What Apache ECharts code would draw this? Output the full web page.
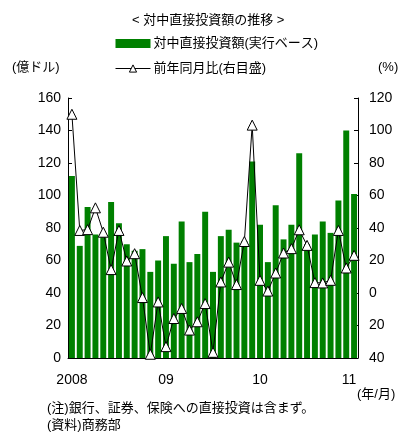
<!DOCTYPE html>
<html>
<head>
<meta charset="utf-8">
<script src="https://cdn.jsdelivr.net/npm/echarts@6/dist/echarts.min.js"></script>
<style>
  html, body { margin: 0; padding: 0; background: #fff; }
  #main { width: 403px; height: 436px; }
</style>
</head>
<body>
<div id="main"></div>
<script>
  // 2008/01 - 2011/01
  let months = [];
  for (let y = 2008; y <= 2011; y++) {
    for (let m = 1; m <= 12; m++) {
      if (y === 2011 && m > 1) break;
      months.push(y + '/' + m);
    }
  }
  let yearLabels = {'2008/1': '2008', '2009/1': '09', '2010/1': '10', '2011/1': '{last|11}'};

  // 対中直接投資額(実行ベース) 億ドル
  let amount = [112, 69, 93, 76, 75, 96, 83, 70, 66, 67, 53, 60,
                75, 58, 84, 59, 64, 90, 53, 75, 79, 71, 72, 121,
                82, 59, 94, 73, 82, 126, 70, 76, 84, 77, 97, 140,
                101];
  // 前年同月比 %
  let yoy = [110, 38.5, 39, 52.4, 37.4, 14.4, 38.5, 19.7, 24.2, -2.8, -37.7, -5.5,
             -33, -15.7, -9.5, -22.8, -17.7, -6.5, -36.5, 6.8, 19, 5.2, 31.7, 103.3,
             7.8, 1.2, 12.3, 24.6, 27.3, 38.9, 29.3, 6.4, 6.2, 7.8, 38.5, 15.4, 23.2];

  let font = '"Liberation Sans", "Noto Sans CJK JP", sans-serif';
  let myChart = echarts.init(document.getElementById('main'));

  let options = {
    animation: false,
    textStyle: {fontFamily: font, color: '#000'},
    title: {
      text: '< 対中直接投資額の推移 >',
      left: 127,
      top: 9,
      textStyle: {fontSize: 13, fontWeight: 'normal', color: '#000', fontFamily: font}
    },
    legend: {
      orient: 'vertical',
      left: 115,
      top: 37,
      padding: 0,
      itemWidth: 35,
      itemHeight: 9,
      itemGap: 12,
      textStyle: {fontSize: 13, color: '#000', fontFamily: font, padding: [0, 0, 0, -2]},
      data: [
        {name: '対中直接投資額(実行ベース)', icon: 'rect'},
        {name: '前年同月比(右目盛)', itemStyle: {borderWidth: 1}, lineStyle: {width: 1}}
      ]
    },
    grid: {left: 68, right: 45, top: 98, bottom: 78},
    xAxis: {
      type: 'category',
      data: months,
      boundaryGap: true,
      axisLine: {lineStyle: {color: '#000', width: 1}},
      axisTick: {
        length: 5,
        interval: function (i) { return i % 12 === 0; },
        lineStyle: {color: '#000'}
      },
      axisLabel: {
        interval: 0,
        fontSize: 14,
        color: '#000',
        margin: 15,
        formatter: function (v) { return yearLabels[v] || ''; },
        rich: {last: {fontSize: 14, color: '#000', padding: [0, 10, 0, 0]}}
      }
    },
    yAxis: [{
      type: 'value',
      min: 0,
      max: 160,
      interval: 20,
      splitLine: {show: false},
      axisLine: {show: true, lineStyle: {color: '#000'}},
      axisTick: {show: true, inside: true, length: 4, lineStyle: {color: '#000'}},
      axisLabel: {fontSize: 14, color: '#000', margin: 7}
    }, {
      type: 'value',
      min: -40,
      max: 120,
      interval: 20,
      splitLine: {show: false},
      axisLine: {show: true, lineStyle: {color: '#000'}},
      axisTick: {show: true, inside: true, length: 4, lineStyle: {color: '#000'}},
      axisLabel: {
        fontSize: 14, color: '#000', margin: 11,
        formatter: function (v) { return String(Math.abs(v)); }
      }
    }],
    series: [{
      name: '対中直接投資額(実行ベース)',
      type: 'bar',
      data: amount,
      barCategoryGap: '24%',
      itemStyle: {color: '#008000'}
    }, {
      name: '前年同月比(右目盛)',
      type: 'line',
      yAxisIndex: 1,
      data: yoy,
      symbol: 'triangle',
      symbolSize: 10,
      lineStyle: {color: '#000', width: 1},
      itemStyle: {color: '#fff', borderColor: '#000', borderWidth: 1}
    }],
    graphic: [
      {type: 'text', left: 12, top: 61, style: {text: '(億ドル)', font: '13px ' + font, fill: '#000'}},
      {type: 'text', left: 378, top: 61, style: {text: '(%)', font: '13px ' + font, fill: '#000'}},
      {type: 'text', left: 357, top: 388, style: {text: '(年/月)', font: '13px ' + font, fill: '#000'}},
      {type: 'text', left: 47, top: 402, style: {text: '(注)銀行、証券、保険への直接投資は含まず。', font: '13px ' + font, fill: '#000'}},
      {type: 'text', left: 47, top: 419, style: {text: '(資料)商務部', font: '13px ' + font, fill: '#000'}}
    ]
  };
  myChart.setOption(options);
</script>
</body>
</html>
